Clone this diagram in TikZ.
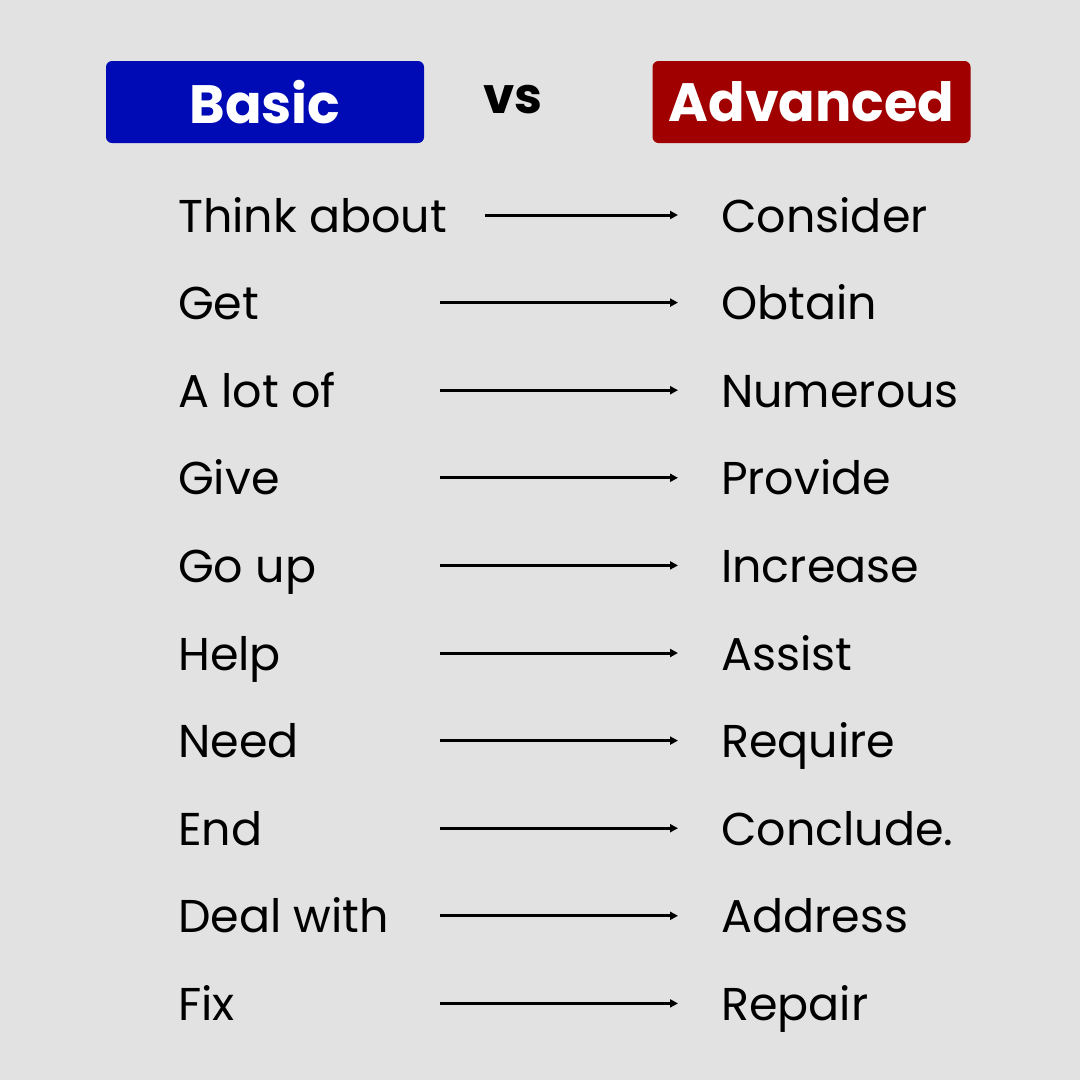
\documentclass[tikz,border=0pt]{standalone}
\usepackage{fontspec}
\setmainfont{Poppins}
\usetikzlibrary{arrows.meta, positioning}
\definecolor{bgray}{HTML}{E2E2E2}
\definecolor{basicblue}{HTML}{000BB5}
\definecolor{advred}{HTML}{A00000}

\begin{document}
\begin{tikzpicture}[x=1pt, y=-1pt,
headbox/.style={rounded corners=6pt, inner sep=0pt, minimum width=318pt, minimum height=82pt, text=white, font=\fontsize{54}{60}\selectfont\bfseries},
wordnode/.style={anchor=base west, inner sep=0pt, font=\fontsize{46}{52}\selectfont},
linkarrow/.style={-{Triangle[length=8pt,width=8pt]}, line width=3pt, shorten >=43pt},
]
%Background
\fill[bgray] (0,0) rectangle (1080,1080);
\useasboundingbox (0,0) rectangle (1080,1080);
%Header
\node[headbox, fill=basicblue] (basic) at (265,102) {Basic};
\node[headbox, fill=advred] (adv) at (811.5,102) {Advanced};
\node[font=\fontsize{50}{56}\selectfont\bfseries] (vs) at (513,100) {vs};
%Words
\foreach \i/\lw/\rw in {0/Think about/Consider, 1/Get/Obtain, 2/A lot of/Numerous,
  3/Give/Provide, 4/Go up/Increase, 5/Help/Assist, 6/Need/Require,
  7/End/Conclude., 8/Deal with/Address, 9/Fix/Repair}{
  \node[wordnode] (l\i) at (178,{232+87.6*\i}) {\lw};
  \node[wordnode] (r\i) at (721,{232+87.6*\i}) {\rw};
}
%Arrows
\draw[linkarrow] ([xshift=38pt]l0.east |- 0,215) -- (r0.west |- 0,215);
\foreach \i in {1,...,9}{
  \draw[linkarrow] (440,{215+87.6*\i}) coordinate (s\i) -- (r\i.west |- s\i);
}
\end{tikzpicture}
\end{document}
